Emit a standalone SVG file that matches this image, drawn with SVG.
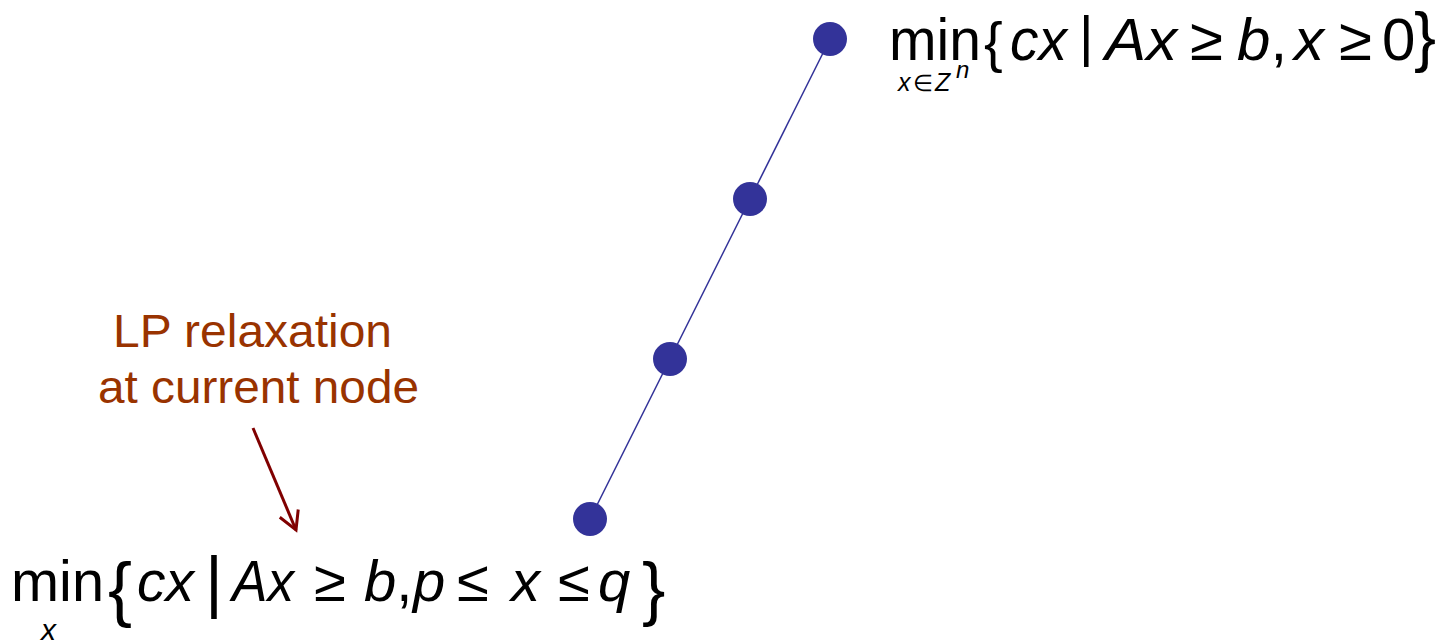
<svg xmlns="http://www.w3.org/2000/svg" width="1445" height="643" viewBox="0 0 1445 643">
<defs>
<style>
.f{font-family:"Liberation Sans",Arial,sans-serif;fill:#000}
.i{font-style:italic}
.lbl{font-family:"Liberation Sans",Arial,sans-serif;font-size:47px;fill:#993300}
.node{fill:#333399}
.edge{stroke:#333399;stroke-width:1.5;fill:none}
.arr{stroke:#800000;stroke-width:3;fill:none}
</style>
<marker id="ah" markerUnits="userSpaceOnUse" viewBox="-22 -13 25 26" markerWidth="25" markerHeight="26" refX="0" refY="0" orient="auto">
<path d="M-18,-10 L0,0 L-18,10" stroke="#800000" stroke-width="3" fill="none"/>
</marker>
</defs>
<rect width="1445" height="643" fill="#fff"/>
<g id="connectors">
<line class="edge" x1="830" y1="39" x2="750" y2="199"/>
<line class="edge" x1="750" y1="199" x2="670" y2="359"/>
<line class="edge" x1="670" y1="359" x2="590" y2="519"/>
<line class="arr" x1="253" y1="428" x2="296" y2="530" marker-end="url(#ah)"/>
</g>
<g id="node1"><circle class="node" cx="830" cy="39" r="17"/></g>
<g id="node2"><circle class="node" cx="750" cy="199" r="17"/></g>
<g id="node3"><circle class="node" cx="670" cy="359" r="17"/></g>
<g id="node4"><circle class="node" cx="590" cy="519" r="17"/></g>
<g id="label-lp">
<text class="lbl" x="113" y="347" textLength="279" lengthAdjust="spacingAndGlyphs">LP relaxation</text>
<text class="lbl" x="98" y="403" textLength="321" lengthAdjust="spacingAndGlyphs">at current node</text>
</g>
<g id="formula-top" class="f" font-size="60">
<text x="889" y="60" textLength="92" lengthAdjust="spacingAndGlyphs">min</text>
<text x="898" y="91" font-size="25" class="i">x</text>
<text x="913" y="91" font-size="23">∈</text>
<text x="935" y="91" font-size="25" class="i">Z</text>
<text x="956" y="78" font-size="24" class="i">n</text>
<text x="984" y="61" font-size="56">{</text>
<text x="1010" y="60" class="i" textLength="57" lengthAdjust="spacingAndGlyphs">cx</text>
<text x="1079" y="55" font-size="56">|</text>
<text x="1105" y="60" class="i" textLength="72" lengthAdjust="spacingAndGlyphs">Ax</text>
<text x="1190" y="60">≥</text>
<text x="1237" y="60"><tspan class="i">b</tspan>,</text>
<text x="1294" y="60" class="i">x</text>
<text x="1339" y="60">≥</text>
<text x="1382" y="60">0</text>
<text x="1414" y="59" font-size="66">}</text>
</g>
<g id="formula-bottom" class="f" font-size="58">
<text x="11" y="601" textLength="93" lengthAdjust="spacingAndGlyphs">min</text>
<text x="41" y="640" font-size="30" class="i">x</text>
<text x="108" y="613" font-size="72">{</text>
<text x="137" y="601" class="i" textLength="57" lengthAdjust="spacingAndGlyphs">cx</text>
<text x="205" y="605" font-size="69">|</text>
<text x="232" y="601" class="i" textLength="62" lengthAdjust="spacingAndGlyphs">Ax</text>
<text x="314" y="601">≥</text>
<text x="364" y="601"><tspan class="i">b</tspan>,</text>
<text x="413" y="601" class="i">p</text>
<text x="457" y="601">≤</text>
<text x="511" y="601" class="i">x</text>
<text x="558" y="601">≤</text>
<text x="598" y="601" class="i">q</text>
<text x="642" y="612" font-size="70">}</text>
</g>
</svg>
